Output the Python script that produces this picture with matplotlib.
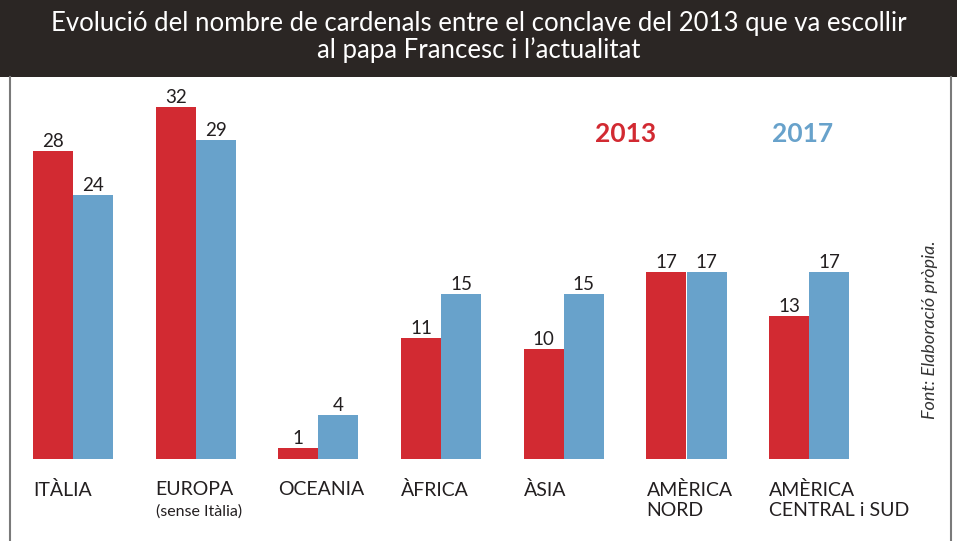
import matplotlib
matplotlib.use("Agg")
import matplotlib.pyplot as plt
import matplotlib.transforms as mtransforms
import numpy as np

plt.rcParams['font.family'] = ['Lato', 'DejaVu Sans']

# dades
regions = ['ITÀLIA', 'EUROPA', 'OCEANIA', 'ÀFRICA', 'ÀSIA', 'AMÈRICA\nNORD', 'AMÈRICA\nCENTRAL i SUD']
subnotes = ['', '(sense Itàlia)', '', '', '', '', '']
cardenals_2013 = [28, 32, 1, 11, 10, 17, 13]
cardenals_2017 = [24, 29, 4, 15, 15, 17, 17]
years = ['2013', '2017']
title = "Evolució del nombre de cardenals entre el conclave del 2013 que va escollir\nal papa Francesc i l’actualitat"
source = "Font: Elaboració pròpia."

RED = '#d22a32'
BLUE = '#68a2cb'
DARK = '#231f20'
W, H = 957, 541

fig = plt.figure(figsize=(W / 100, H / 100), dpi=100)
fig.patch.set_facecolor('white')

# barra del títol
fig.patches.append(plt.Rectangle((0, 1 - 77 / H), 1, 77 / H, transform=fig.transFigure,
                                 facecolor='#2b2624', edgecolor='none', zorder=0))
fig.text(0.5, 1 - 37 / H, title, ha='center', va='center', color='white',
         fontsize=18.5, linespacing=1.05)

# marc
for xp in (10, 951):
    fig.add_artist(plt.Line2D([xp / W, xp / W], [0, 1 - 77 / H], transform=fig.transFigure,
                              color='#7a7a7a', lw=1.5))

# eixos: centre del grup i -> 73 + 122.7*i px, base a y=459 px
step = 122.7
left_px = 73 - 0.5 * step
ax = fig.add_axes([left_px / W, (H - 459) / H, 7 * step / W, (459 - 80) / H])
ax.set_xlim(-0.5, 6.5)
ax.set_ylim(0, 379 / 11.0)
ax.axis('off')

x = np.arange(len(regions))
bw = 40 / step
ax.bar(x - bw / 2, cardenals_2013, width=bw, color=RED, edgecolor='none')
ax.bar(x + bw / 2, cardenals_2017, width=bw, color=BLUE, edgecolor='none')

for xi, a, b in zip(x, cardenals_2013, cardenals_2017):
    ax.text(xi - bw / 2, a + 0.05, str(a), ha='center', va='bottom', fontsize=13.5, color=DARK)
    ax.text(xi + bw / 2, b + 0.05, str(b), ha='center', va='bottom', fontsize=13.5, color=DARK)

# etiquetes de regions
trans = mtransforms.blended_transform_factory(ax.transData, fig.transFigure)
for xi, name, note in zip(x, regions, subnotes):
    ax.text(xi - bw, 1 - 481 / H, name, transform=trans, ha='left', va='top',
            fontsize=14, color=DARK, linespacing=1.2)
    if note:
        ax.text(xi - bw, 1 - 504 / H, note, transform=trans, ha='left', va='top',
                fontsize=11.5, color=DARK)

# llegenda
fig.text(626 / W, 1 - 134 / H, years[0], ha='center', va='center', fontsize=19,
         fontweight='bold', color=RED)
fig.text(803 / W, 1 - 134 / H, years[1], ha='center', va='center', fontsize=19,
         fontweight='bold', color=BLUE)

# font
fig.text(930 / W, 1 - 330 / H, source, rotation=90, ha='center', va='center',
         fontsize=13, style='italic', color='#333333')

fig.savefig('out.png', dpi=100)
